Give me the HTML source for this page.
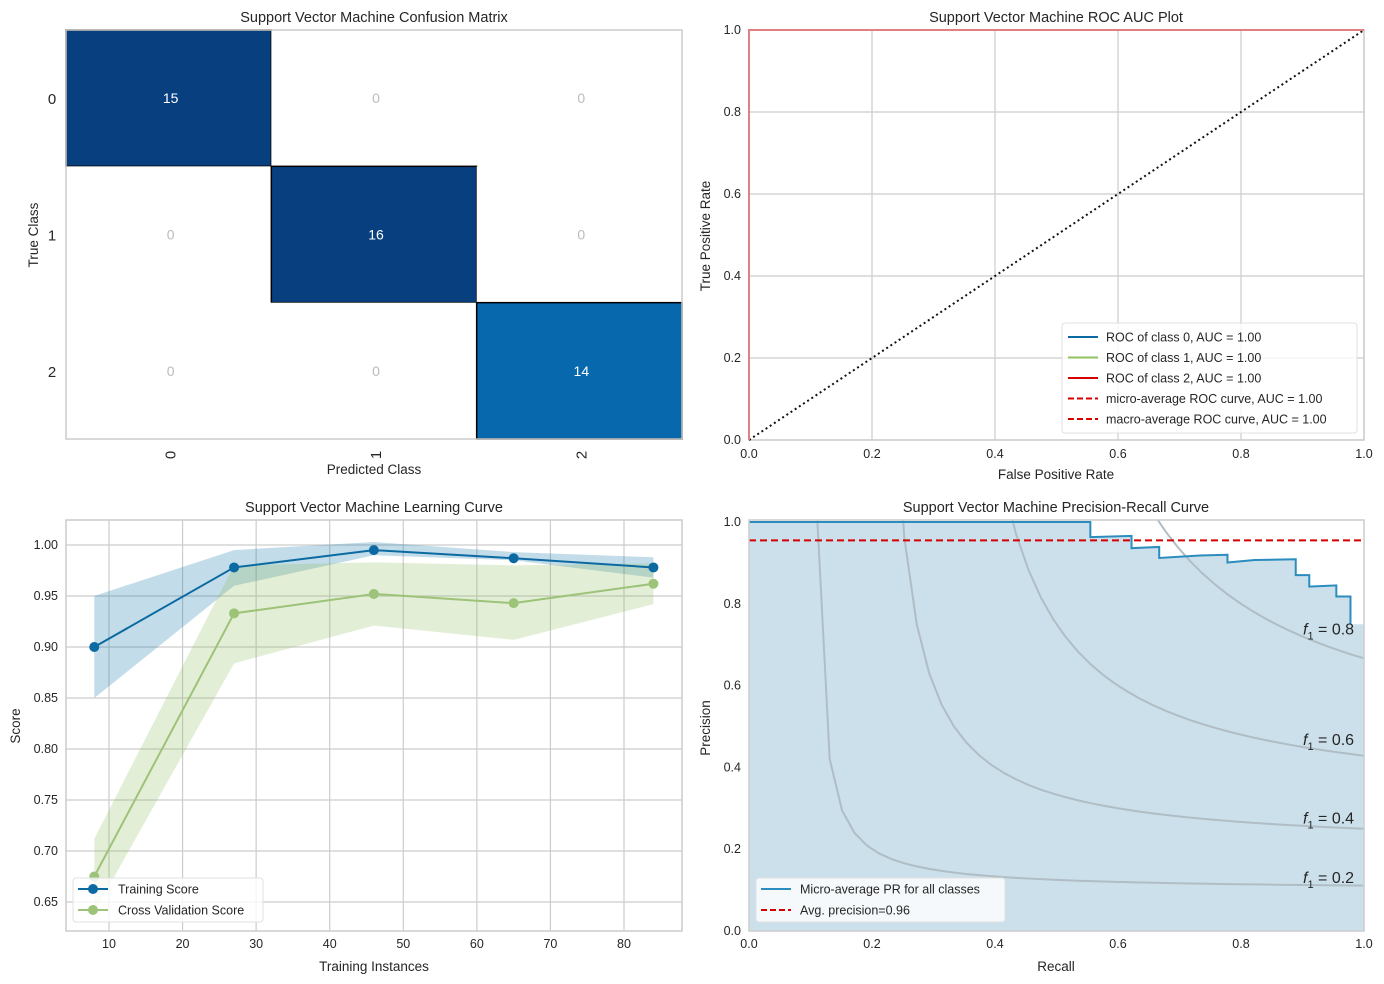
<!DOCTYPE html>
<html><head><meta charset="utf-8"><style>
body{margin:0;background:#fff;}
svg{display:block;font-family:"Liberation Sans",sans-serif;}
</style></head><body>
<svg id="fig" width="1384" height="984" viewBox="0 0 1384 984" xmlns="http://www.w3.org/2000/svg"></svg>
<script>
// ---------- data ----------
const cmClasses = ['0','1','2'];
const cmValues = [[15,0,0],[0,16,0],[0,0,14]];
const rocTicks = [0,0.2,0.4,0.6,0.8,1.0];
const rocLegend = ['ROC of class 0, AUC = 1.00','ROC of class 1, AUC = 1.00','ROC of class 2, AUC = 1.00','micro-average ROC curve, AUC = 1.00','macro-average ROC curve, AUC = 1.00'];
const lcSizes = [8,27,46,65,84];
const lcTrain = [0.900,0.978,0.995,0.987,0.978];
const lcTrainLo = [0.850,0.960,0.990,0.985,0.968];
const lcTrainHi = [0.950,0.995,1.003,0.993,0.988];
const lcCV = [0.675,0.933,0.952,0.943,0.962];
const lcCVLo = [0.640,0.884,0.921,0.907,0.942];
const lcCVHi = [0.712,0.980,0.983,0.980,0.982];
const lcXTicks = [10,20,30,40,50,60,70,80];
const lcYTicks = [0.65,0.70,0.75,0.80,0.85,0.90,0.95,1.00];
const prRecall = [0,0.555,0.555,0.622,0.622,0.667,0.667,0.733,0.778,0.778,0.822,0.889,0.889,0.911,0.911,0.955,0.955,0.978,0.978];
const prPrecision = [1,1,0.963,0.966,0.936,0.939,0.912,0.918,0.920,0.901,0.907,0.909,0.870,0.870,0.842,0.845,0.818,0.818,0.750];
const prAvg = 0.955;
const isoF1 = [0.2,0.4,0.6,0.8];
const prTicks = [0,0.2,0.4,0.6,0.8,1.0];

const NS='http://www.w3.org/2000/svg';
const svg=document.getElementById('fig');
function el(tag,attrs,parent,name){const e=document.createElementNS(NS,tag);for(const k in attrs)e.setAttribute(k,attrs[k]);


(parent||svg).appendChild(e);return e;}
function txt(x,y,s,size,anchor,name,extra){const t=el('text',Object.assign({x:x,y:y,'font-size':size,'text-anchor':anchor||'middle',fill:'#262626'},extra||{}),null,name);t.textContent=s;return t;}
function lin(a,b,c,d){return v=>c+(v-a)/(b-a)*(d-c);}
function pts(xs,ys,fx,fy){return xs.map((v,i)=>fx(v)+','+fy(ys[i])).join(' ');}
function frame(x0,y0,x1,y1,name){el('rect',{x:x0,y:y0,width:x1-x0,height:y1-y0,fill:'none',stroke:'#cccccc','stroke-width':1.5},null,name);}

// ---------- confusion matrix ----------
(function(){
 const x0=66,x1=682,y0=30,y1=439,cw=(x1-x0)/3,ch=(y1-y0)/3;
 cmValues.forEach((row,i)=>row.forEach((v,j)=>{
  let fill='#ffffff';
  if(v>0){fill=v>=15?'#08407f':'#0868ae';}
  el('rect',{x:x0+j*cw,y:y0+i*ch,width:cw,height:ch,fill:fill,stroke:v>0?'#000':'none','stroke-width':1.5},null,'cm-cell-'+i+'-'+j);
  txt(x0+j*cw+cw/2+2,y0+i*ch+ch/2+5,String(v),14,'middle','cm-value-'+i+'-'+j,{fill:v>0?'#ffffff':'#bbbbbb'});
 }));
 frame(x0,y0,x1,y1,'cm-frame');
 cmClasses.forEach((c,i)=>{
  txt(52,y0+i*ch+ch/2+6,c,15,'middle','cm-ytick');
  txt(0,0,c,15,'middle','cm-xtick',{transform:'translate('+(x0+i*cw+cw/2+7)+',455) rotate(-90)'});
 });
 txt(374,22,'Support Vector Machine Confusion Matrix',14.5,'middle','cm-title');
 txt(374,474,'Predicted Class',13.5,'middle','cm-x-title');
 txt(0,0,'True Class',13.5,'middle','cm-y-title',{transform:'translate(38,235) rotate(-90)'});
})();

// ---------- ROC ----------
(function(){
 const x0=749,x1=1364,y0=30,y1=440;
 const fx=lin(0,1,x0,x1),fy=lin(0,1,y1,y0);
 rocTicks.forEach(t=>{
  el('line',{x1:fx(t),x2:fx(t),y1:y0,y2:y1,stroke:'#cccccc','stroke-width':1.2},null,'roc-grid-x');
  el('line',{x1:x0,x2:x1,y1:fy(t),y2:fy(t),stroke:'#cccccc','stroke-width':1.2},null,'roc-grid-y');
  txt(fx(t),458,t.toFixed(1),12.5,'middle','roc-xtick');
  txt(x0-8,fy(t)+4,t.toFixed(1),12.5,'end','roc-ytick');
 });
 frame(x0,y0,x1,y1,'roc-frame');
 el('line',{x1:fx(0),y1:fy(0),x2:fx(1),y2:fy(1),stroke:'#111','stroke-width':2,'stroke-dasharray':'2,3'},null,'roc-diagonal');
 el('polyline',{points:pts([0,0,1],[0,1,1],fx,fy),fill:'none',stroke:'#e08080','stroke-width':2},null,'roc-curves');
 el('rect',{x:1062,y:323,width:295,height:110,fill:'#fff','fill-opacity':0.8,stroke:'#e0e0e0',rx:3},null,'roc-legend');
 const cols=['#0b6aa2','#8fc15f','#d40000','#d40000','#d40000'];
 rocLegend.forEach((s,i)=>{const y=337+i*20.5;
  el('line',{x1:1068,x2:1098,y1:y,y2:y,stroke:cols[i],'stroke-width':2,'stroke-dasharray':i>2?'6,3':'none'},null,'roc-legend-line');
  txt(1106,y+4.5,s,12.5,'start','roc-legend-entry');});
 txt(1056,22,'Support Vector Machine ROC AUC Plot',14.5,'middle','roc-title');
 txt(1056,479,'False Positive Rate',13.5,'middle','roc-x-title');
 txt(0,0,'True Positive Rate',13.5,'middle','roc-y-title',{transform:'translate(710,236) rotate(-90)'});
})();

// ---------- Learning curve ----------
(function(){
 const x0=66,x1=682,y0=520,y1=931;
 const fx=lin(10,80,109,624),fy=lin(0.65,1.0,902,545);
 lcXTicks.forEach(t=>{el('line',{x1:fx(t),x2:fx(t),y1:y0,y2:y1,stroke:'#cccccc','stroke-width':1.2},null,'lc-grid-x');txt(fx(t),948,String(t),12.5,'middle','lc-xtick');});
 lcYTicks.forEach(t=>{el('line',{x1:x0,x2:x1,y1:fy(t),y2:fy(t),stroke:'#cccccc','stroke-width':1.2},null,'lc-grid-y');txt(58,fy(t)+4,t.toFixed(2),12.5,'end','lc-ytick');});
 frame(x0,y0,x1,y1,'lc-frame');
 const band=(lo,hi,c,n)=>el('polygon',{points:pts(lcSizes,hi,fx,fy)+' '+pts(lcSizes.slice().reverse(),lo.slice().reverse(),fx,fy),fill:c,'fill-opacity':0.25},null,n);
 band(lcTrainLo,lcTrainHi,'#0b72a8','lc-train-band');
 band(lcCVLo,lcCVHi,'#8fbd5a','lc-cv-band');
 [[lcTrain,'#0b6aa2','lc-train-line'],[lcCV,'#9cc378','lc-cv-line']].forEach(([d,c,n])=>{
  el('polyline',{points:pts(lcSizes,d,fx,fy),fill:'none',stroke:c,'stroke-width':2},null,n);
  d.forEach((v,i)=>el('circle',{cx:fx(lcSizes[i]),cy:fy(v),r:5,fill:c},null,n+'-point'));
 });
 el('rect',{x:73,y:878,width:190,height:44,fill:'#fff','fill-opacity':0.8,stroke:'#e0e0e0',rx:3},null,'lc-legend');
 [['Training Score','#0b6aa2'],['Cross Validation Score','#9cc378']].forEach(([s,c],i)=>{const y=889+i*21;
  el('line',{x1:78,x2:108,y1:y,y2:y,stroke:c,'stroke-width':2},null,'lc-legend-line');
  el('circle',{cx:93,cy:y,r:5,fill:c},null,'lc-legend-marker');
  txt(118,y+4.5,s,12.5,'start','lc-legend-entry');});
 txt(374,512,'Support Vector Machine Learning Curve',14.5,'middle','lc-title');
 txt(374,971,'Training Instances',13.5,'middle','lc-x-title');
 txt(0,0,'Score',13.5,'middle','lc-y-title',{transform:'translate(20,726) rotate(-90)'});
})();

// ---------- PR curve ----------
(function(){
 const x0=749,x1=1364,y0=520,y1=931;
 const fx=lin(0,1,x0,x1),fy=lin(0,1,931,522);
 const cp=document.createElementNS(NS,'clipPath');cp.setAttribute('id','prclip');
 const cr=document.createElementNS(NS,'rect');cr.setAttribute('x',x0);cr.setAttribute('y',y0);cr.setAttribute('width',x1-x0);cr.setAttribute('height',y1-y0);cp.appendChild(cr);svg.appendChild(cp);
 const g=el('g',{'clip-path':'url(#prclip)'},null,'pr-plot-area');
 el('polygon',{points:fx(0)+','+fy(0)+' '+pts(prRecall,prPrecision,fx,fy)+' '+fx(1)+','+fy(prPrecision[prPrecision.length-1])+' '+fx(1)+','+fy(0),fill:'#cce0eb'},g,'pr-fill');
 isoF1.forEach(f=>{const xs=[],ys=[];for(let i=0;i<=49;i++){const r=0.01+i*0.99/49;const p=f*r/(2*r-f);if(p>0&&p<=20){xs.push(r);ys.push(p);}}
  el('polyline',{points:pts(xs,ys,fx,fy),fill:'none',stroke:'#b0bdc5','stroke-width':2},g,'iso-f1-curve');
  const yl=f*0.9/(1.8-f)+0.02;
  const t=txt(1303,fy(yl)+6,'',16,'start','iso-f1-label');
  t.innerHTML='<tspan font-style="italic">f</tspan><tspan font-size="11" dy="5">1</tspan><tspan dy="-5"> = '+f+'</tspan>';
 });
 el('polyline',{points:pts(prRecall,prPrecision,fx,fy),fill:'none',stroke:'#2b8cbe','stroke-width':2},g,'pr-curve');
 el('line',{x1:x0,x2:x1,y1:fy(prAvg),y2:fy(prAvg),stroke:'#d40000','stroke-width':2,'stroke-dasharray':'7,4'},g,'avg-precision-line');
 prTicks.forEach(t=>{txt(fx(t),948,t.toFixed(1),12.5,'middle','pr-xtick');txt(x0-8,fy(t)+4,t.toFixed(1),12.5,'end','pr-ytick');});
 frame(x0,y0,x1,y1,'pr-frame');
 el('rect',{x:756,y:878,width:249,height:44,fill:'#fff','fill-opacity':0.8,stroke:'#e0e0e0',rx:3},null,'pr-legend');
 [['Micro-average PR for all classes','#2b8cbe','none'],['Avg. precision=0.96','#d40000','6,3']].forEach(([s,c,d],i)=>{const y=889+i*21;
  el('line',{x1:761,x2:791,y1:y,y2:y,stroke:c,'stroke-width':2,'stroke-dasharray':d},null,'pr-legend-line');
  txt(800,y+4.5,s,12.5,'start','pr-legend-entry');});
 txt(1056,512,'Support Vector Machine Precision-Recall Curve',14.5,'middle','pr-title');
 txt(1056,971,'Recall',13.5,'middle','pr-x-title');
 txt(0,0,'Precision',13.5,'middle','pr-y-title',{transform:'translate(710,728) rotate(-90)'});
})();
</script>
</body></html>
